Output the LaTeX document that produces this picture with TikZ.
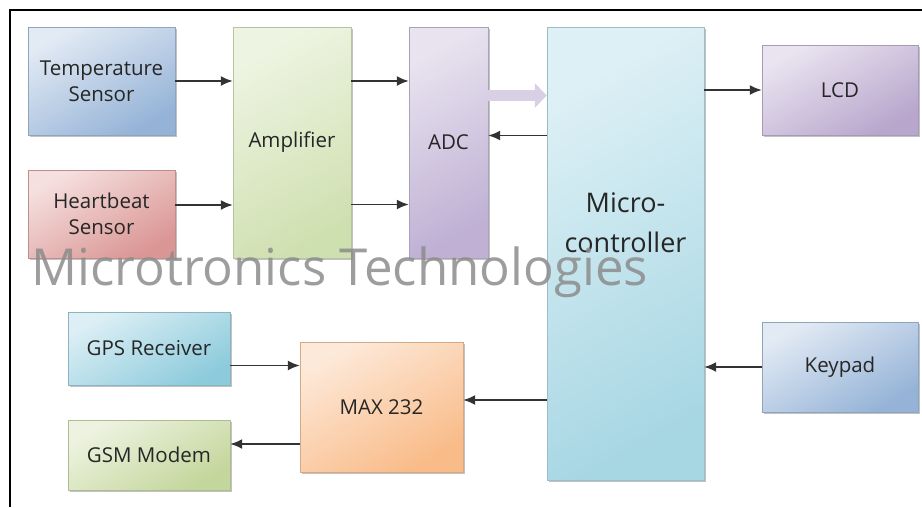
\documentclass[tikz,border=0pt]{standalone}
\usepackage{fontspec}
\setmainfont{Open Sans}
\usetikzlibrary{arrows.meta, positioning, shadows}
\definecolor{tempA}{HTML}{95B3D7}\definecolor{tempB}{HTML}{E2EAF4}
\definecolor{heartA}{HTML}{DA9694}\definecolor{heartB}{HTML}{F5E0DF}
\definecolor{ampA}{HTML}{CFE0B0}\definecolor{ampB}{HTML}{EEF4E2}
\definecolor{adcA}{HTML}{BFB0D4}\definecolor{adcB}{HTML}{E8E3EF}
\definecolor{mcuA}{HTML}{A8D7E4}\definecolor{mcuB}{HTML}{DDF0F5}
\definecolor{lcdA}{HTML}{B8A6CC}\definecolor{lcdB}{HTML}{E9E4F0}
\definecolor{keyA}{HTML}{95B3D7}\definecolor{keyB}{HTML}{E2EAF4}
\definecolor{gpsA}{HTML}{8DCBDC}\definecolor{gpsB}{HTML}{DCEFF5}
\definecolor{gsmA}{HTML}{C3D69B}\definecolor{gsmB}{HTML}{EEF3E1}
\definecolor{maxA}{HTML}{F9BB88}\definecolor{maxB}{HTML}{FDE9D9}
\begin{document}
\begin{tikzpicture}[
    x=1pt, y=-1pt,
    shadowed/.style={drop shadow={shadow xshift=2pt, shadow yshift=-2pt, fill=black!40, opacity=0.6}},
    box/.style={rectangle, shadowed, draw=#1A!70!gray, top color=#1B, bottom color=#1A, shading angle=30, inner sep=0pt, align=center, font=\fontsize{20.5}{26}\selectfont, text=black!85},
    arrow/.style={-{Latex[length=12pt,width=10pt]}, draw=black!80, line width=1.7pt},
    fat/.style={-{Triangle[length=12pt,width=24pt]}, line width=11pt, draw=adcA!60},
    wmark/.style={font=\fontsize{51}{51}\selectfont, text=black!45, opacity=0.85, inner sep=0pt}
]
\useasboundingbox (0,0) rectangle (922,507);
\draw[line width=1.3pt] (10,507) -- (10,10) -- (922,10);

\node[box=temp, minimum width=147pt, minimum height=108pt] (temp) at (101.5,81) {Temperature\\Sensor};
\node[box=heart, minimum width=147pt, minimum height=88pt] (heart) at (101.5,214) {Heartbeat\\Sensor};
\node[box=amp, minimum width=118pt, minimum height=231pt] (amp) at (292,142.5) {Amplifier};
\node[box=adc, minimum width=79pt, minimum height=231pt] (adc) at (448.5,142.5) {ADC};
\node[box=mcu, minimum width=157pt, minimum height=453pt] (mcu) at (625.5,253.5) {};
\node[align=center, font=\fontsize{27}{40}\selectfont, text=black!85] (mcutext) at ([yshift=31pt]mcu.center) {Micro-\\controller};
\node[box=lcd, minimum width=156pt, minimum height=90pt] (lcd) at (840,90) {LCD};
\node[box=key, minimum width=156pt, minimum height=90pt] (keypad) at (840,367) {Keypad};
\node[box=gps, minimum width=162pt, minimum height=73pt] (gps) at (149,348.5) {GPS Receiver};
\node[box=gsm, minimum width=162pt, minimum height=70pt] (gsm) at (149,455) {GSM Modem};
\node[box=max, minimum width=163pt, minimum height=130pt] (max) at (381.5,407) {MAX 232};

\draw[arrow] (temp.east) -- (temp.east -| amp.west);
\draw[arrow] ([yshift=9pt]heart.east) -- ([yshift=9pt]heart.east -| amp.west);
\draw[arrow] (amp.east |- temp.east) -- (adc.west |- temp.east);
\draw[arrow] ([yshift=-62pt]amp.east) -- ([yshift=-62pt]amp.east -| adc.west);
\draw[fat] ([yshift=47pt]adc.east) -- ([yshift=47pt]adc.east -| mcu.west);
\draw[arrow] ([yshift=7pt]adc.east -| mcu.west) -- ([yshift=7pt]adc.east);
\draw[arrow] (mcu.east |- lcd.west) -- (lcd.west);
\draw[arrow] (keypad.west) -- (keypad.west -| mcu.east);
\draw[arrow] ([yshift=7pt]max.east -| mcu.west) -- ([yshift=7pt]max.east);
\draw[arrow] ([yshift=-17pt]gps.east) -- ([yshift=-17pt]gps.east -| max.west);
\draw[arrow] ([yshift=11pt]gsm.east -| max.west) -- ([yshift=11pt]gsm.east);

\node[wmark, anchor=base west] (wm) at (31,285) {Microtronics Technologies};
\end{tikzpicture}
\end{document}
